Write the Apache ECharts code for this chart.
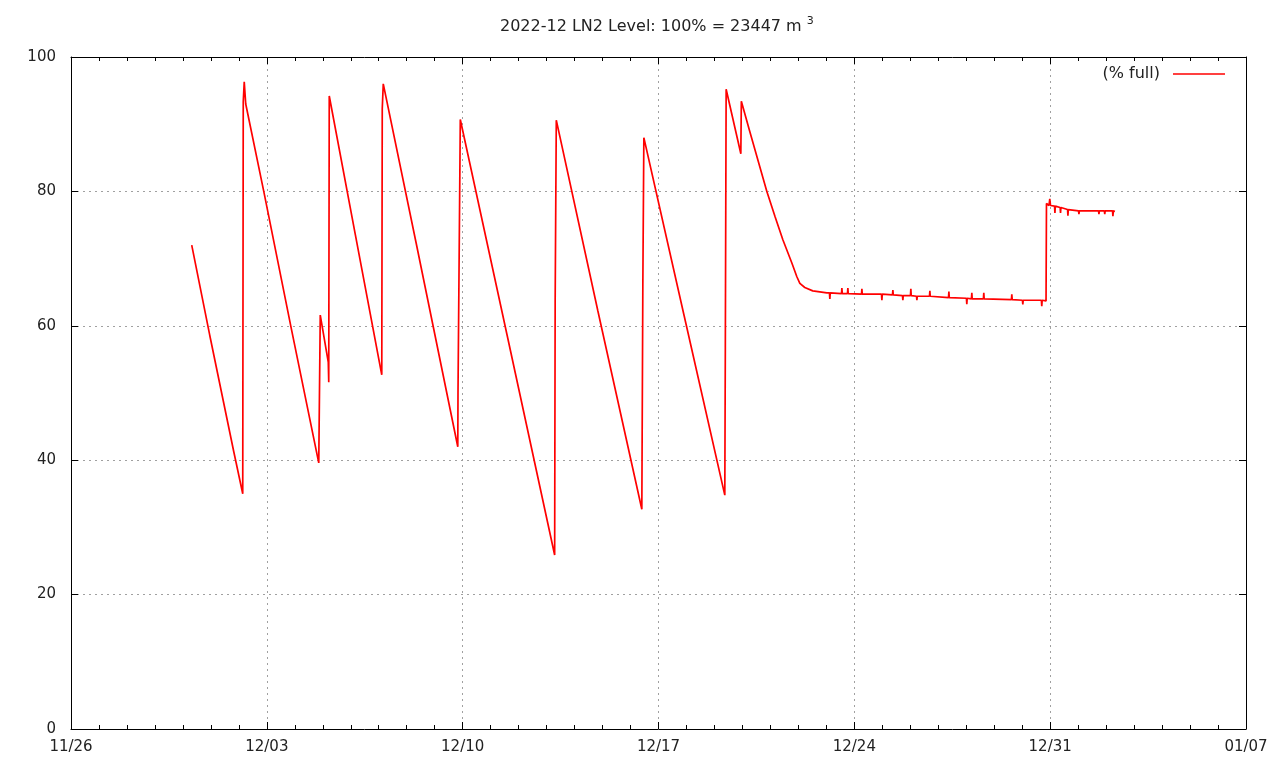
<!DOCTYPE html>
<html>
<head>
<meta charset="utf-8">
<script src="https://cdn.jsdelivr.net/npm/echarts@6/dist/echarts.min.js"></script>
<style>html,body{margin:0;padding:0;background:#fff}#c{width:1280px;height:768px}</style>
</head>
<body>
<div id="c"></div>
<script>
// ---- data ----
const times = [
// refill cycles
'2022-11-30 07:34','2022-11-30 23:01','2022-12-01 19:36','2022-12-02 03:20',
'2022-12-02 03:46','2022-12-02 04:37','2022-12-02 05:54','2022-12-02 21:22','2022-12-03 20:31','2022-12-04 20:33',
'2022-12-04 21:50','2022-12-05 04:42','2022-12-05 05:07','2022-12-05 05:33','2022-12-06 04:00','2022-12-07 02:36',
'2022-12-07 03:01','2022-12-07 03:53','2022-12-08 08:00','2022-12-09 19:49','2022-12-09 20:00','2022-12-09 20:56',
'2022-12-09 21:58','2022-12-11 14:00','2022-12-13 06:55','2022-12-13 07:21','2022-12-13 08:19','2022-12-14 20:00',
'2022-12-16 09:42','2022-12-16 10:34','2022-12-16 11:26','2022-12-17 22:00','2022-12-19 08:53','2022-12-19 09:20',
'2022-12-19 10:02','2022-12-19 22:38','2022-12-19 23:04','2022-12-20 06:00','2022-12-20 20:57','2022-12-21 04:05',
'2022-12-21 10:41','2022-12-21 18:29','2022-12-21 22:42','2022-12-22 01:16','2022-12-22 05:30','2022-12-22 12:20',
// plateau ~65 %
'2022-12-23 00:26',
'2022-12-23 02:40','2022-12-23 03:00','2022-12-23 03:20',
'2022-12-23 13:00','2022-12-23 13:19','2022-12-23 13:40',
'2022-12-23 18:07','2022-12-23 18:27','2022-12-23 18:47',
'2022-12-24 06:09','2022-12-24 06:29','2022-12-24 06:49',
'2022-12-24 23:18','2022-12-24 23:38','2022-12-24 23:58',
'2022-12-25 08:44','2022-12-25 09:04','2022-12-25 09:24',
'2022-12-25 17:18','2022-12-25 17:38','2022-12-25 17:58',
'2022-12-26 00:09','2022-12-26 00:29','2022-12-26 00:49',
'2022-12-26 05:20','2022-12-26 05:40','2022-12-26 06:00',
'2022-12-26 16:28','2022-12-26 16:48','2022-12-26 17:08',
'2022-12-27 08:47','2022-12-27 09:07','2022-12-27 09:27',
'2022-12-28 00:09','2022-12-28 00:29','2022-12-28 00:49',
'2022-12-28 04:28','2022-12-28 04:48','2022-12-28 05:08',
'2022-12-28 14:44','2022-12-28 15:04','2022-12-28 15:24',
'2022-12-29 14:46','2022-12-29 15:06','2022-12-29 15:26',
'2022-12-30 00:12','2022-12-30 00:32','2022-12-30 00:52',
'2022-12-30 16:28','2022-12-30 16:48','2022-12-30 17:08',
'2022-12-30 20:28',
// after refill, plateau ~77 %
'2022-12-30 20:50','2022-12-30 23:00','2022-12-30 23:40','2022-12-31 00:20',
'2022-12-31 03:45','2022-12-31 04:05','2022-12-31 04:25',
'2022-12-31 08:33','2022-12-31 08:53','2022-12-31 09:13',
'2022-12-31 14:54','2022-12-31 15:14','2022-12-31 15:34',
'2023-01-01 00:20','2023-01-01 00:40','2023-01-01 01:00',
'2023-01-01 17:30','2023-01-01 17:50','2023-01-01 18:10',
'2023-01-01 22:30','2023-01-01 22:50','2023-01-01 23:10',
'2023-01-02 05:30','2023-01-02 05:50','2023-01-02 06:10',
'2023-01-02 07:34'
];
const levels = [
72.0,58.6,41.3,35.0,
93.3,96.3,93.0,80.0,60.0,39.6,
61.6,54.6,51.6,94.2,73.5,52.7,
92.3,96.0,72.4,42.0,50.0,50.0,
90.7,58.7,25.9,63.8,90.6,62.2,
32.7,66.1,88.0,61.5,34.8,56.8,
95.2,85.6,93.4,89.1,80.0,76.2,
72.8,69.3,67.3,66.3,65.7,65.2,
64.9,
64.9,64.0,64.9,
64.8,65.6,64.8,
64.8,65.6,64.8,
64.7,65.5,64.7,
64.7,63.8,64.7,
64.6,65.3,64.6,
64.5,63.8,64.5,
64.5,65.5,64.5,
64.4,63.8,64.4,
64.4,65.2,64.4,
64.2,65.1,64.2,
64.1,63.2,64.1,
64.0,64.9,64.0,
64.0,64.9,64.0,
63.9,64.7,63.9,
63.8,63.2,63.8,
63.8,62.9,63.8,
63.7,
78.2,77.9,78.9,77.9,
77.8,76.8,77.8,
77.6,76.8,77.6,
77.3,76.4,77.3,
77.1,76.6,77.1,
77.1,76.6,77.1,
77.1,76.6,77.1,
77.1,76.3,77.1,
77.0
];
const xStart = '2022-11-26 00:00';
const xEnd = '2023-01-07 00:00';
const yTicks = [0, 20, 40, 60, 80, 100];
const seriesName = '(% full)';
const titleText = '2022-12 LN2 Level: 100% = 23447 m';
const titleSup = '3';

// ---- helpers ----
function ts(s) {
  const [d, t] = s.split(' ');
  const [Y, M, D] = d.split('-').map(Number);
  const [h, m] = t.split(':').map(Number);
  return Date.UTC(Y, M - 1, D, h, m);
}
function pad(n) { return (n < 10 ? '0' : '') + n; }
const DAY = 86400000;
const xMin = ts(xStart), xMax = ts(xEnd);
const data = times.map((t, i) => [ts(t), levels[i]]);

const gridLine = { show: true, lineStyle: { color: '#a0a0a0', type: [2, 4], width: 1 } };
const font = 'DejaVu Sans';
const xCommon = {
  type: 'value', min: xMin, max: xMax, interval: 7 * DAY,
  axisLine: { show: true, onZero: false, lineStyle: { color: '#000', width: 1 } },
  axisTick: { show: true, inside: true, length: 7, lineStyle: { color: '#000' } },
  minorTick: { show: true, splitNumber: 7, length: 4, lineStyle: { color: '#000' } },
};
const yCommon = {
  type: 'value', min: yTicks[0], max: yTicks[yTicks.length - 1], interval: yTicks[1] - yTicks[0],
  axisLine: { show: true, onZero: false, lineStyle: { color: '#000', width: 1 } },
  axisTick: { show: true, inside: true, length: 7, lineStyle: { color: '#000' } },
};

const chart = echarts.init(document.getElementById('c'));
chart.setOption({
  animation: false,
  backgroundColor: '#fff',
  title: {
    text: titleText + ' {sup|' + titleSup + '}',
    left: 495, top: 11,
    textStyle: {
      fontFamily: font, fontSize: 16, fontWeight: 'normal', color: '#222',
      rich: { sup: { fontFamily: font, fontSize: 11, color: '#222', padding: [0, 0, 10, 0] } }
    }
  },
  legend: {
    right: 50, top: 61, align: 'right', icon: 'rect', itemWidth: 52, itemHeight: 1.5, itemGap: 10,
    textStyle: { fontFamily: font, fontSize: 16, color: '#222', padding: [0, 8, 0, 0] },
    data: [seriesName]
  },
  grid: { left: 71, right: 34, top: 57, bottom: 39 },
  xAxis: [
    Object.assign({}, xCommon, {
      position: 'bottom',
      splitLine: gridLine,
      axisLabel: {
        show: true, margin: 11, fontFamily: font, fontSize: 15, color: '#222',
        formatter: v => { const d = new Date(v); return pad(d.getUTCMonth() + 1) + '/' + pad(d.getUTCDate()); }
      }
    }),
    Object.assign({}, xCommon, { position: 'top', splitLine: { show: false }, axisLabel: { show: false } })
  ],
  yAxis: [
    Object.assign({}, yCommon, {
      position: 'left', splitLine: gridLine,
      axisLabel: { show: true, margin: 15, fontFamily: font, fontSize: 15, color: '#222' }
    }),
    Object.assign({}, yCommon, { position: 'right', splitLine: { show: false }, axisLabel: { show: false } })
  ],
  series: [{
    name: seriesName, type: 'line', data: data, showSymbol: false, symbol: 'none',
    xAxisIndex: 0, yAxisIndex: 0,
    lineStyle: { color: '#ff0000', width: 1.7 }, itemStyle: { color: '#ff0000' }
  }]
});
</script>
</body>
</html>
